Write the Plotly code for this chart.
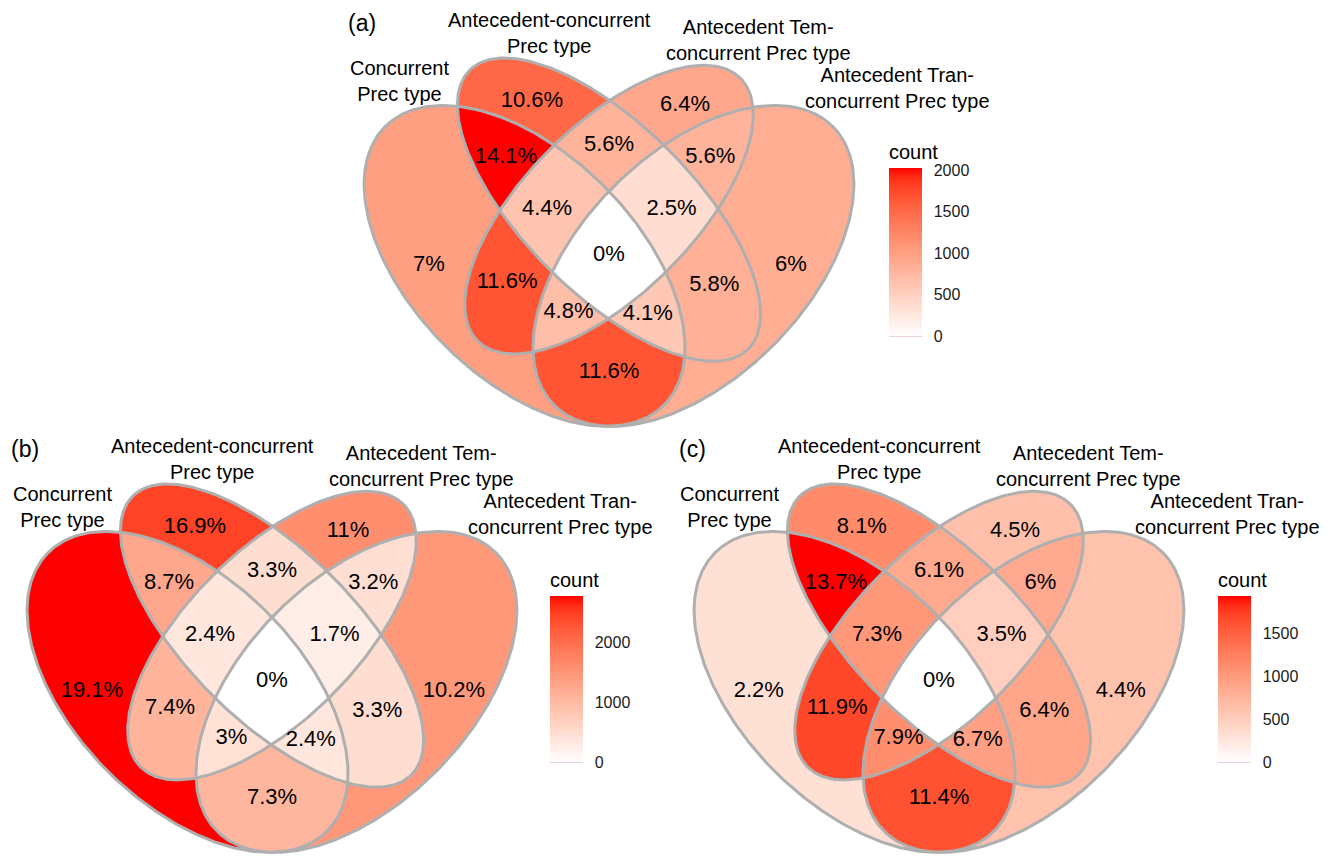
import numpy as np
import plotly.graph_objects as go

W, H = 1338, 856
FONT = "Liberation Sans, Arial, Helvetica, sans-serif"

# ---- data -------------------------------------------------------------
set_names = [
    "Concurrent<br>Prec type",
    "Antecedent-concurrent<br>Prec type",
    "Antecedent Tem-<br>concurrent Prec type",
    "Antecedent Tran-<br>concurrent Prec type",
]
# region keys: which sets (1..4) a region belongs to
region_keys = ["1", "2", "3", "4", "12", "13", "14", "23", "24", "34",
               "123", "124", "134", "234", "1234"]

pct_a = [7.0, 10.6, 6.4, 6.0, 14.1, 11.6, 11.6, 5.6, 5.8, 5.6, 4.4, 4.1, 4.8, 2.5, 0.0]
pct_b = [19.1, 16.9, 11.0, 10.2, 8.7, 7.4, 7.3, 3.3, 3.3, 3.2, 2.4, 2.4, 3.0, 1.7, 0.0]
pct_c = [2.2, 8.1, 4.5, 4.4, 13.7, 11.9, 11.4, 6.1, 6.4, 6.0, 7.3, 6.7, 7.9, 3.5, 0.0]
total_a, total_b, total_c = 14400, 14560, 14140

ticks_a = [0, 500, 1000, 1500, 2000]
ticks_b = [0, 1000, 2000]
ticks_c = [0, 500, 1000, 1500]
panel_tags = ["(a)", "(b)", "(c)"]

# ---- geometry of the 4-ellipse Venn layout ----------------------------
ELLIPSES = [(0.35, 0.47, 0.35, 0.20, 135),
            (0.50, 0.57, 0.35, 0.15, 135),
            (0.50, 0.57, 0.33, 0.15, 45),
            (0.65, 0.47, 0.35, 0.20, 45)]
SET_LABEL_POS = [(0.127, 0.799), (0.394, 0.883), (0.7655, 0.872), (1.013, 0.786)]
TAG_POS = (0.0613, 0.901)
K = 563.0  # pixels per data unit

# panel placement: pixel of data point (0.5, 0.5), axis pixel box, colorbar box
PANELS = [
    dict(cx=609, cy=249, box=(340, 880, 45, 435), cb=(889, 169, 336)),
    dict(cx=272, cy=675, box=(0, 545, 470, 856), cb=(550, 597, 762)),
    dict(cx=939, cy=675, box=(670, 1210, 470, 856), cb=(1218, 597, 762)),
]
CB_TITLE_PX = 28  # room taken by the colorbar title above the bar


def inside(X, Y, e):
    cx, cy, a, b, ang = e
    t = np.deg2rad(ang)
    dx, dy = X - cx, Y - cy
    u = dx * np.cos(t) + dy * np.sin(t)
    v = -dx * np.sin(t) + dy * np.cos(t)
    return (u / a) ** 2 + (v / b) ** 2 <= 1.0


def outline(e, n=360):
    cx, cy, a, b, ang = e
    t = np.deg2rad(ang)
    s = np.linspace(0, 2 * np.pi, n)
    x = cx + a * np.cos(s) * np.cos(t) - b * np.sin(s) * np.sin(t)
    y = cy + a * np.cos(s) * np.sin(t) + b * np.sin(s) * np.cos(t)
    return x, y


# ---- white -> red gradient interpolated in CIELAB ---------------------
def _lin(c):
    c = np.asarray(c, float) / 255.0
    return np.where(c <= 0.04045, c / 12.92, ((c + 0.055) / 1.055) ** 2.4)


def _delin(c):
    c = np.clip(c, 0, 1)
    return np.where(c <= 0.0031308, 12.92 * c, 1.055 * c ** (1 / 2.4) - 0.055)


M = np.array([[0.4124564, 0.3575761, 0.1804375],
              [0.2126729, 0.7151522, 0.0721750],
              [0.0193339, 0.1191920, 0.9503041]])
WN = np.array([0.95047, 1.0, 1.08883])
EPS, KAP = 216 / 24389, 24389 / 27


def rgb2lab(rgb):
    xyz = M @ _lin(rgb) / WN
    f = np.where(xyz > EPS, np.cbrt(xyz), (KAP * xyz + 16) / 116)
    return np.array([116 * f[1] - 16, 500 * (f[0] - f[1]), 200 * (f[1] - f[2])])


def lab2rgb(lab):
    L, a, b = lab
    fy = (L + 16) / 116
    fx = fy + a / 500
    fz = fy - b / 200
    f = np.array([fx, fy, fz])
    xyz = np.where(f ** 3 > EPS, f ** 3, (116 * f - 16) / KAP)
    xyz = xyz * WN
    rgb = _delin(np.linalg.inv(M) @ xyz)
    return np.round(rgb * 255).astype(int)


lab_lo, lab_hi = rgb2lab([255, 255, 255]), rgb2lab([255, 0, 0])
colorscale = []
for i in range(21):
    f = i / 20
    r, g, b = lab2rgb(lab_lo + (lab_hi - lab_lo) * f)
    colorscale.append([f, f"rgb({r},{g},{b})"])

# ---- region grid -------------------------------------------------------
STEP = 0.002
xs = np.arange(0.055, 0.945, STEP)
ys = np.arange(0.175, 0.852, STEP)
X, Y = np.meshgrid(xs, ys)
code = np.zeros(X.shape, dtype=int)
for i, e in enumerate(ELLIPSES):
    code += inside(X, Y, e).astype(int) << i


def key_to_code(k):
    return sum(1 << (int(ch) - 1) for ch in k)


region_masks = [code == key_to_code(k) for k in region_keys]


def interior_point(mask):
    """Point on surface: widest run on the scan line through the envelope's middle."""
    rows = np.where(mask.any(axis=1))[0]
    ymid = 0.5 * (ys[rows[0]] + ys[rows[-1]])
    r = int(np.argmin(np.abs(ys - ymid)))
    line = mask[r].astype(int)
    d = np.diff(np.concatenate([[0], line, [0]]))
    starts, ends = np.where(d == 1)[0], np.where(d == -1)[0]
    j = int(np.argmax(ends - starts))
    return 0.5 * (xs[starts[j]] + xs[ends[j] - 1]), ymid


label_pts = [interior_point(m) for m in region_masks]

fig = go.Figure()
layout_axes = {}
annotations = []
shapes = []

panel_data = [(pct_a, total_a, ticks_a), (pct_b, total_b, ticks_b), (pct_c, total_c, ticks_c)]

for p, (pcts, total, tickvals) in enumerate(panel_data):
    P = PANELS[p]
    sfx = "" if p == 0 else str(p + 1)
    xa, ya = "x" + sfx, "y" + sfx
    ca = "coloraxis" + sfx

    def to_paper(x, y):
        return (P["cx"] + (x - 0.5) * K) / W, 1 - (P["cy"] - (y - 0.5) * K) / H

    x0, x1, y0, y1 = P["box"]
    layout_axes["xaxis" + sfx] = dict(
        domain=[x0 / W, x1 / W],
        range=[0.5 + (x0 - P["cx"]) / K, 0.5 + (x1 - P["cx"]) / K],
        visible=False, anchor=ya, fixedrange=True)
    layout_axes["yaxis" + sfx] = dict(
        domain=[1 - y1 / H, 1 - y0 / H],
        range=[0.5 - (y1 - P["cy"]) / K, 0.5 - (y0 - P["cy"]) / K],
        visible=False, anchor=xa, fixedrange=True)

    counts = [v / 100 * total for v in pcts]
    Z = np.full(X.shape, np.nan, dtype=np.float32)
    for m, c in zip(region_masks, counts):
        Z[m] = c
    fig.add_trace(go.Heatmap(x=xs, y=ys, z=Z, coloraxis=ca, xaxis=xa, yaxis=ya,
                             hoverinfo="skip", zsmooth=False))

    for e in ELLIPSES:
        ex, ey = outline(e)
        fig.add_trace(go.Scatter(x=ex, y=ey, mode="lines", xaxis=xa, yaxis=ya,
                                 line=dict(color="#AFAFAF", width=3),
                                 hoverinfo="skip", showlegend=False))

    fig.add_trace(go.Scatter(
        x=[c[0] for c in label_pts], y=[c[1] for c in label_pts],
        text=[f"{v:g}%" for v in pcts], mode="text", xaxis=xa, yaxis=ya,
        textfont=dict(size=22, family=FONT, color="black"),
        cliponaxis=False, hoverinfo="skip", showlegend=False))

    for name, (lx, ly) in zip(set_names, SET_LABEL_POS):
        ax_, ay_ = to_paper(lx, ly)
        annotations.append(dict(x=ax_, y=ay_, xref="paper", yref="paper", text=name,
                                showarrow=False, xanchor="center", yanchor="middle",
                                font=dict(size=20, family=FONT, color="black")))
    tx, ty = to_paper(*TAG_POS)
    annotations.append(dict(x=tx, y=ty, xref="paper", yref="paper",
                            text=panel_tags[p], showarrow=False,
                            xanchor="center", yanchor="middle",
                            font=dict(size=23, family=FONT, color="black")))

    cmax = max(counts)
    bx, btop, bbot = P["cb"]
    blen = bbot - btop
    bw = 33
    layout_axes[ca] = dict(
        cmin=0, cmax=cmax, colorscale=colorscale,
        colorbar=dict(
            x=bx / W, xanchor="left", xpad=0,
            y=1 - bbot / H, yanchor="bottom", ypad=0,
            len=blen + CB_TITLE_PX, lenmode="pixels", thickness=bw, thicknessmode="pixels",
            outlinewidth=0, tickvals=tickvals, ticktext=[str(t) for t in tickvals],
            ticks="outside", ticklen=9, tickcolor="rgba(0,0,0,0)",
            tickfont=dict(size=16, family=FONT, color="#1a1a1a"),
            title=dict(text="count", side="top",
                       font=dict(size=20, family=FONT, color="black"))))

    # short white tick marks on both edges of the colour bar
    for t in tickvals:
        yp = bbot - t / cmax * blen
        if t == 0:
            shapes.append(dict(type="line", xref="paper", yref="paper",
                               x0=bx / W, x1=(bx + bw) / W, y0=1 - yp / H, y1=1 - yp / H,
                               line=dict(color="#E3C3C6", width=1.5)))
        else:
            for xa0, xa1 in [(bx, bx + 7), (bx + bw - 7, bx + bw)]:
                shapes.append(dict(type="line", xref="paper", yref="paper",
                                   x0=xa0 / W, x1=xa1 / W, y0=1 - yp / H, y1=1 - yp / H,
                                   line=dict(color="white", width=1.5)))

fig.update_layout(
    width=W, height=H, margin=dict(l=0, r=0, t=0, b=0),
    paper_bgcolor="white", plot_bgcolor="rgba(0,0,0,0)",
    showlegend=False, annotations=annotations, shapes=shapes,
    font=dict(family=FONT), **layout_axes)

fig.write_html("out.html")
